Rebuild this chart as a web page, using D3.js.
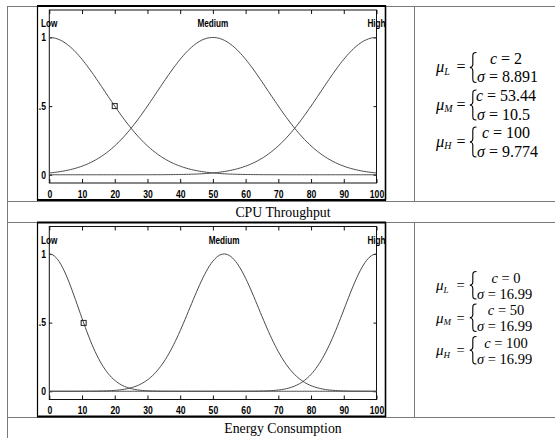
<!DOCTYPE html>
<html>
<head>
<meta charset="utf-8">
<script src="https://cdn.jsdelivr.net/npm/d3@7"></script>
<style>
  html, body { margin: 0; padding: 0; background: #fff; }
  svg { display: block; }
</style>
</head>
<body>
<svg id="chart" width="555" height="438"></svg>
<script>
// Membership function names
const mfNames = ["Low", "Medium", "High"];

// Gaussian membership functions as plotted (centre, spread)
const cpuCenters = [0, 50, 100];
const cpuSigmas = [16.99, 16.99, 16.99];
const energyCenters = [0, 53.44, 100];
const energySigmas = [8.891, 10.5, 9.774];

// Highlighted point on the "Low" curve of each panel
const markerX = [20, 10.5];

// Axis ticks
const xTickValues = [0, 10, 20, 30, 40, 50, 60, 70, 80, 90, 100];
const yTickValues = [0, 0.5, 1];
const yTickLabels = ["0", ".5", "1"];

// Captions under each panel
const captions = ["CPU Throughput", "Energy Consumption"];

// Parameter listings in the right-hand column
const eqSubs = ["L", "M", "H"];
const eqCenters1 = ["2", "53.44", "100"];
const eqSigmas1 = ["8.891", "10.5", "9.774"];
const eqCenters2 = ["0", "50", "100"];
const eqSigmas2 = ["16.99", "16.99", "16.99"];

const svg = d3.select("#chart");
svg.append("rect").attr("width", 555).attr("height", 438).attr("fill", "#fff");

const gauss = (x, c, s) => Math.exp(-((x - c) * (x - c)) / (2 * s * s));
const samples = d3.range(0, 100.001, 0.5);

// ---- table rules ----
const rule = "#7a7a7a";
const hLines = [6, 201, 222, 417];
hLines.forEach(y => svg.append("line")
  .attr("x1", 7).attr("x2", 555).attr("y1", y + 0.5).attr("y2", y + 0.5)
  .attr("stroke", rule).attr("stroke-width", 1));
svg.append("line").attr("x1", 7.5).attr("x2", 7.5).attr("y1", 6).attr("y2", 438)
  .attr("stroke", rule);
[[6, 201], [222, 417]].forEach(([a, b]) => svg.append("line")
  .attr("x1", 414.5).attr("x2", 414.5).attr("y1", a).attr("y2", b)
  .attr("stroke", rule));

// ---- one membership-function panel ----
function panel(idx, top, centers, sigmas, mx) {
  const frame = { x0: 37, x1: 385, y0: top, y1: top + 195 };
  const plot = { x0: 49.3, x1: 376.5, y0: top + 4.5, y1: top + 177.5 };

  const g = svg.append("g");
  const clipId = "clip" + idx;
  svg.append("clipPath").attr("id", clipId).append("rect")
    .attr("x", frame.x0).attr("y", frame.y0)
    .attr("width", frame.x1 - frame.x0).attr("height", frame.y1 - frame.y0);

  const x = d3.scaleLinear().domain([0, 100]).range([plot.x0, plot.x1]);
  const y = d3.scaleLinear().domain([-0.06, 1.2]).range([plot.y1, plot.y0]);

  // plot box
  g.append("rect").attr("x", plot.x0).attr("y", plot.y0)
    .attr("width", plot.x1 - plot.x0).attr("height", plot.y1 - plot.y0)
    .attr("fill", "none").attr("stroke", "#111").attr("stroke-width", 1);

  const tickFont = sel => sel.selectAll("text")
    .attr("font-family", "Liberation Sans, Arial, sans-serif")
    .attr("font-weight", "bold").attr("font-size", 10.5).attr("fill", "#000")
    .attr("transform", "scale(0.82,1)");

  const bottom = g.append("g").attr("transform", `translate(0,${plot.y1})`)
    .call(d3.axisBottom(x).tickValues(xTickValues).tickSizeInner(-4).tickSizeOuter(0).tickPadding(7.5));
  bottom.call(tickFont);
  const topAx = g.append("g").attr("transform", `translate(0,${plot.y0})`)
    .call(d3.axisTop(x).tickValues(xTickValues).tickSizeInner(-4).tickSizeOuter(0).tickFormat(""));
  const left = g.append("g").attr("transform", `translate(${plot.x0},0)`)
    .call(d3.axisLeft(y).tickValues(yTickValues).tickSizeInner(-3).tickSizeOuter(0).tickPadding(4)
      .tickFormat((d, i) => yTickLabels[i]));
  left.call(tickFont);
  const right = g.append("g").attr("transform", `translate(${plot.x1},0)`)
    .call(d3.axisRight(y).tickValues(yTickValues).tickSizeInner(-3).tickSizeOuter(0).tickFormat(""));
  [bottom, topAx, left, right].forEach(a => {
    a.select(".domain").remove();
    a.selectAll("line").attr("stroke", "#111");
  });

  // curves
  const line = d3.line().x(d => x(d[0])).y(d => y(d[1]));
  centers.forEach((c, i) => {
    g.append("path")
      .attr("d", line(samples.map(v => [v, gauss(v, c, sigmas[i])])))
      .attr("fill", "none").attr("stroke", "#4a4a4a").attr("stroke-width", 1);
  });

  // curve names at each centre
  const lab = g.append("g").attr("clip-path", `url(#${clipId})`);
  centers.forEach((c, i) => {
    lab.append("text")
      .attr("transform", `translate(${x(c)},${plot.y0 + 17}) scale(0.82,1)`)
      .attr("text-anchor", "middle")
      .attr("font-family", "Liberation Sans, Arial, sans-serif")
      .attr("font-weight", "bold").attr("font-size", 10)
      .text(mfNames[i]);
  });

  // marker on the Low curve
  const my = gauss(mx, centers[0], sigmas[0]);
  g.append("rect").attr("x", x(mx) - 2.5).attr("y", y(my) - 2.5)
    .attr("width", 5).attr("height", 5)
    .attr("fill", "none").attr("stroke", "#222").attr("stroke-width", 1);

  // panel frame
  g.append("line").attr("x1", frame.x0).attr("x2", frame.x1 + 1)
    .attr("y1", frame.y0 + 0.5).attr("y2", frame.y0 + 0.5).attr("stroke", "#000").attr("stroke-width", 2);
  g.append("line").attr("x1", frame.x0).attr("x2", frame.x1 + 1)
    .attr("y1", frame.y1 - 0.5).attr("y2", frame.y1 - 0.5).attr("stroke", "#000").attr("stroke-width", 2);
  g.append("line").attr("x1", frame.x0 + 0.5).attr("x2", frame.x0 + 0.5)
    .attr("y1", frame.y0).attr("y2", frame.y1).attr("stroke", "#000").attr("stroke-width", 1.2);
  g.append("line").attr("x1", frame.x1 + 0.5).attr("x2", frame.x1 + 0.5)
    .attr("y1", frame.y0).attr("y2", frame.y1).attr("stroke", "#000").attr("stroke-width", 1.6);
}

panel(0, 5.5, cpuCenters, cpuSigmas, markerX[0]);
panel(1, 222, energyCenters, energySigmas, markerX[1]);

// ---- captions ----
[[216.5, captions[0]], [432.5, captions[1]]].forEach(([yb, t]) => {
  svg.append("text").attr("x", 283).attr("y", yb).attr("text-anchor", "middle")
    .attr("font-family", "Liberation Serif, Times New Roman, serif")
    .attr("font-size", 13.8).attr("fill", "#000").text(t);
});

// ---- parameter listings ----
const serif = "Liberation Serif, Times New Roman, serif";
function listing(cy, gap, fs, sub, cText, sText) {
  const g = svg.append("g").attr("font-family", serif).attr("fill", "#000");
  const mu = g.append("text").attr("x", 436).attr("y", cy + 4.5).attr("font-size", fs + 0.5);
  mu.append("tspan").attr("font-style", "italic").text("\u03BC");
  mu.append("tspan").attr("font-style", "italic").attr("font-size", fs * 0.62)
    .attr("dy", 2.5).text(sub);
  g.append("text").attr("x", 456.5).attr("y", cy + 4.5).attr("font-size", fs).text("=");

  // curly brace spanning both rows
  const yT = cy - gap / 2 - 6, yB = cy + gap / 2 + 5.5, yM = (yT + yB) / 2;
  const xr = 476.5, xm = 472.8, xl = 469.8;
  const p = d3.path();
  p.moveTo(xr, yT);
  p.bezierCurveTo(xm, yT, xm, yT + 1.5, xm, yT + 4.5);
  p.lineTo(xm, yM - 3);
  p.bezierCurveTo(xm, yM - 1, xl + 1, yM, xl, yM);
  p.bezierCurveTo(xl + 1, yM, xm, yM + 1, xm, yM + 3);
  p.lineTo(xm, yB - 4.5);
  p.bezierCurveTo(xm, yB - 1.5, xm, yB, xr, yB);
  g.append("path").attr("d", p.toString()).attr("fill", "none")
    .attr("stroke", "#000").attr("stroke-width", 1.1);

  const t1 = g.append("text").attr("x", 506).attr("y", cy - gap / 2 + 5)
    .attr("text-anchor", "middle").attr("font-size", fs);
  t1.append("tspan").attr("font-style", "italic").text("c");
  t1.append("tspan").text(" = " + cText);
  const t2 = g.append("text").attr("x", 477).attr("y", cy + gap / 2 + 5)
    .attr("font-size", fs);
  t2.append("tspan").attr("font-style", "italic").text("\u03C3");
  t2.append("tspan").text(" = " + sText);
}
[67.75, 105.25, 142.25].forEach((cy, i) => listing(cy, 18.5, 16, eqSubs[i], eqCenters1[i], eqSigmas1[i]));
[285.5, 318, 350.5].forEach((cy, i) => listing(cy, 16, 14.5, eqSubs[i], eqCenters2[i], eqSigmas2[i]));
</script>
</body>
</html>
